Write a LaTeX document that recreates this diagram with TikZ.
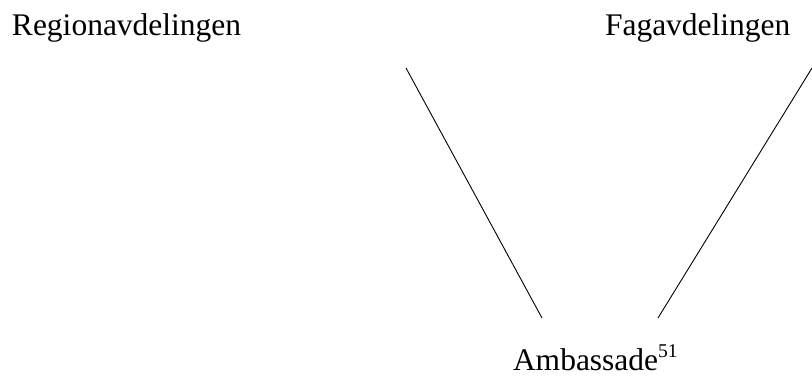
\documentclass[tikz,border=0pt]{standalone}
\usepackage{fontspec}
\setmainfont{Liberation Serif}
\begin{document}
\begin{tikzpicture}[x=1pt,y=-1pt,
  lbl/.style={anchor=base west,inner sep=0pt,outer sep=0pt,font=\fontsize{31.5}{38}\selectfont},
  conn/.style={draw=black,line width=0.9pt}]
\useasboundingbox (0,0) rectangle (812,377);
\node[lbl] (region) at (12,36) {Regionavdelingen};
\node[lbl] (fag) at (605,36) {Fagavdelingen};
\node[lbl] (amb) at (513,370) {Ambassade\raisebox{13pt}{\fontsize{19.5}{21}\selectfont 51}};
\coordinate (la) at (406,68);
\coordinate (lb) at (542,318);
\coordinate (ra) at (812,68);
\coordinate (rb) at (658,318);
\draw[conn] (la) -- (lb);
\draw[conn] (ra) -- (rb);
\end{tikzpicture}
\end{document}
